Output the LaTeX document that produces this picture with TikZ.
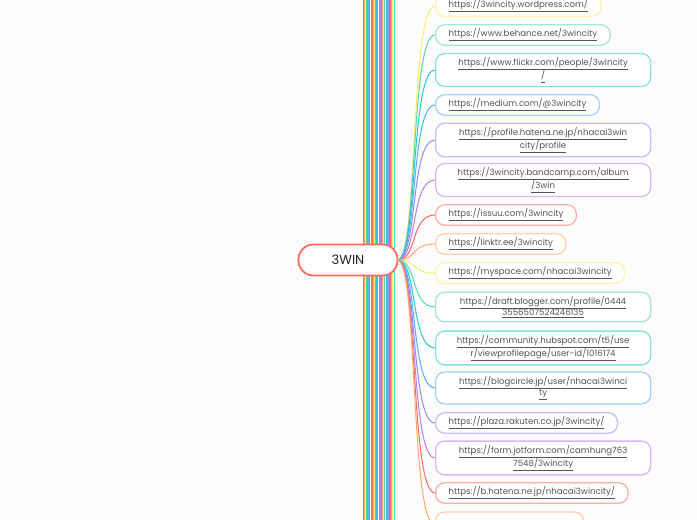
\documentclass[tikz,border=0pt]{standalone}
\usepackage{fontspec}
\setmainfont{Poppins}
\definecolor{cR}{HTML}{FF6B5E}
\definecolor{cO}{HTML}{FFAA70}
\definecolor{cY}{HTML}{FFEA70}
\definecolor{cG}{HTML}{5CD6A3}
\definecolor{cT}{HTML}{26CACA}
\definecolor{cB}{HTML}{5CAEF7}
\definecolor{cI}{HTML}{8E8EF7}
\definecolor{cP}{HTML}{B880EA}
\definecolor{txt}{HTML}{555555}
\tikzset{
  leaf/.style={draw=#1!55!white, line width=1.3pt, rounded corners=9pt, fill=white, anchor=west, align=center,
     font=\fontsize{8.6}{11.5}\selectfont, text=txt, inner xsep=13pt, inner ysep=4pt},
  two/.style={minimum width=215pt},
  link/.style={draw=#1, line width=1pt},
  root/.style={draw=cR, line width=1.8pt, rounded corners=15pt, fill=white, minimum width=99pt, minimum height=31pt, font=\fontsize{13}{15}\selectfont, text=black!85}
}
\newcommand{\ulx}[1]{\underline{#1}}
\begin{document}
\begin{tikzpicture}[x=1pt,y=-1pt]
\useasboundingbox (0,0) rectangle (697,520);
\clip (0,0) rectangle (697,520);
\fill[white!98!gray] (0,0) rectangle (697,520);
\foreach \i/\c in {0/cR,1/cO,2/cY,3/cG,4/cT,5/cB,6/cI,7/cP,8/cR,9/cO,10/cY,11/cG,12/cT,13/cB,14/cI,15/cP,16/cR,17/cO,18/cY,19/cG,20/cT,21/cB,22/cI,23/cP,24/cR,25/cO,26/cY,27/cG}
  \draw[line width=1pt,\c] (363+\i*1.15,-5) -- (363+\i*1.15,525);
\node[root] (root) at (348,260) {3WIN};
\foreach \n/\y/\c/\s/\t in {
 a/6/cY//{\ulx{https://3wincity.wordpress.com/}},
 b/35/cG//{\ulx{https://www.behance.net/3wincity}},
 c/70/cT/two/{\ulx{https://www.flickr.com/people/3wincity}\\\ulx{/}},
 d/105/cB//{\ulx{https://medium.com/@3wincity}},
 e/140/cI/two/{\ulx{https://profile.hatena.ne.jp/nhacai3win}\\\ulx{city/profile}},
 f/180/cP/two/{\ulx{https://3wincity.bandcamp.com/album}\\\ulx{/3win}},
 g/215/cR//{\ulx{https://issuu.com/3wincity}},
 h/244/cO//{\ulx{https://linktr.ee/3wincity}},
 i/273/cY//{\ulx{https://myspace.com/nhacai3wincity}},
 j/307/cG/two/{\ulx{https://draft.blogger.com/profile/0444}\\\ulx{3556507524246135}},
 k/348/cT/two/{\ulx{https://community.hubspot.com/t5/use}\\\ulx{r/viewprofilepage/user-id/1016174}},
 l/388/cB/two/{\ulx{https://blogcircle.jp/user/nhacai3winci}\\\ulx{ty}},
 m/423/cI//{\ulx{https://plaza.rakuten.co.jp/3wincity/}},
 n/458/cP/two/{\ulx{https://form.jotform.com/camhung763}\\\ulx{7548/3wincity}},
 o/493/cR//{\ulx{https://b.hatena.ne.jp/nhacai3wincity/}}}
{
  \coordinate (s\n) at ([xshift=-1pt]root.east);
  \draw[link=\c] (s\n) .. controls (418,260) and (410,\y) .. (435,\y);
  \node[leaf=\c,\s] (\n) at (435,\y) {\t};
}
\draw[link=cO] ([xshift=-1pt]root.east) .. controls (418,260) and (410,525) .. (435,525);
\node[leaf=cO, minimum width=148pt, minimum height=20pt] (p) at (435,522) {};
\end{tikzpicture}
\end{document}
